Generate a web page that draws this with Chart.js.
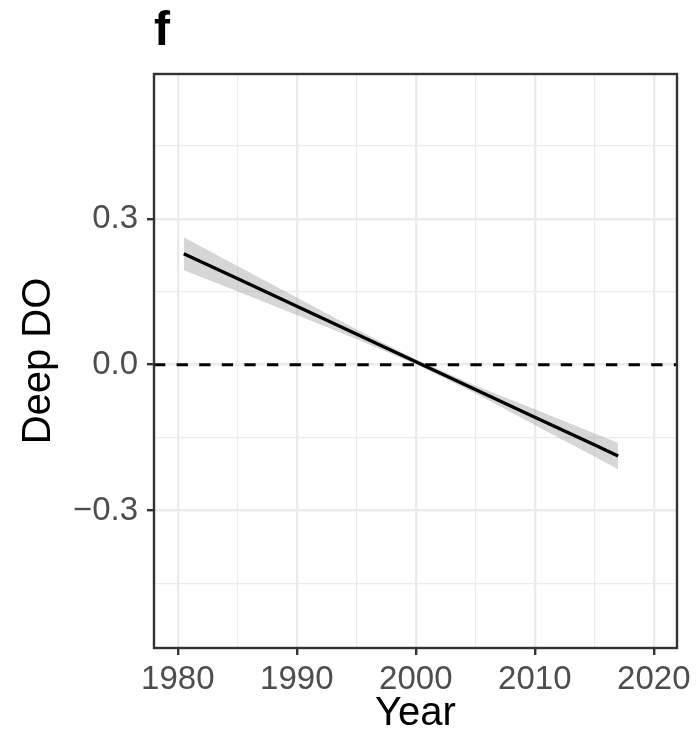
<!DOCTYPE html>
<html>
<head>
<meta charset="utf-8">
<script src="https://cdn.jsdelivr.net/npm/chart.js@4.4.1/dist/chart.umd.min.js"></script>
<style>
  body { margin: 0; background: #fff; }
  #wrap { width: 697px; height: 738px; }
</style>
</head>
<body>
<div id="wrap"><canvas id="trendChart"></canvas></div>
<script>
// values
const years = [1980.5, 1985, 1990, 1995, 2000, 2005, 2010, 2015, 2017];
const fitValues = [0.228, 0.177, 0.120, 0.063, 0.006, -0.051, -0.108, -0.165, -0.188];
const upperBand = [0.262, 0.203, 0.138, 0.073, 0.011, -0.043, -0.092, -0.141, -0.161];
const lowerBand = [0.194, 0.151, 0.102, 0.053, 0.001, -0.059, -0.124, -0.189, -0.215];
const refValue = 0;

const xTicks = [1980, 1985, 1990, 1995, 2000, 2005, 2010, 2015, 2020];
const xMajor = [1980, 1990, 2000, 2010, 2020];
const yTicks = [-0.45, -0.3, -0.15, 0, 0.15, 0.3, 0.45];
const yMajor = [-0.3, 0, 0.3];
const xLimits = [1978, 2021.95];
const yLimits = [-0.583, 0.598];

const FONT = '"Liberation Sans", Arial, Helvetica, sans-serif';
Chart.defaults.font.family = FONT;

const toPoints = vals => vals.map((v, i) => ({ x: years[i], y: v }));

// panel border drawn over the data, like theme_bw
const panelBorder = {
  id: "panelBorder",
  afterDatasetsDraw(chart) {
    const { ctx, chartArea: a } = chart;
    ctx.save();
    ctx.strokeStyle = "#333333";
    ctx.lineWidth = 2.4;
    ctx.strokeRect(a.left, a.top, a.right - a.left, a.bottom - a.top);
    ctx.restore();
  }
};

const gridWidth = major => ctx => (major.includes(ctx.tick.value) ? 2.4 : 1.2);
const tickColor = major => ctx => (major.includes(ctx.tick.value) ? "#333333" : "rgba(0,0,0,0)");

const ctx = document.getElementById("trendChart").getContext("2d");
new Chart(ctx, {
  type: "line",
  data: {
    datasets: [
      {
        data: toPoints(lowerBand),
        borderWidth: 0,
        pointRadius: 0,
        fill: false,
        order: 3
      },
      {
        data: toPoints(upperBand),
        borderWidth: 0,
        pointRadius: 0,
        fill: "-1",
        backgroundColor: "rgba(153,153,153,0.4)",
        order: 2
      },
      {
        data: [{ x: xLimits[0], y: refValue }, { x: xLimits[1], y: refValue }],
        borderColor: "#000000",
        borderWidth: 3,
        borderDash: [11.3, 11.3],
        pointRadius: 0,
        fill: false,
        order: 1
      },
      {
        data: toPoints(fitValues),
        borderColor: "#000000",
        borderWidth: 3.3,
        pointRadius: 0,
        fill: false,
        order: 0
      }
    ]
  },
  options: {
    responsive: true,
    maintainAspectRatio: false,
    animation: false,
    layout: { padding: { left: 0, right: 20, top: 0, bottom: 0 } },
    plugins: {
      legend: { display: false },
      tooltip: { enabled: false },
      title: {
        display: true,
        text: "f",
        align: "start",
        fullSize: false,
        color: "#000000",
        font: { size: 48, weight: "bold" },
        padding: { top: 3, bottom: 13.4 }
      }
    },
    scales: {
      x: {
        type: "linear",
        min: xLimits[0],
        max: xLimits[1],
        afterBuildTicks: s => { s.ticks = xTicks.map(v => ({ value: v })); },
        afterFit: s => { s.height = 90; },
        ticks: {
          autoSkip: false,
          maxRotation: 0,
          padding: 5,
          color: "#4D4D4D",
          font: { size: 33 },
          callback: v => (xMajor.includes(v) ? String(v) : "")
        },
        grid: {
          color: "#EBEBEB",
          lineWidth: gridWidth(xMajor),
          tickColor: tickColor(xMajor),
          tickLength: 7,
          tickWidth: 2.4
        },
        border: { display: false },
        title: {
          display: true,
          text: "Year",
          color: "#000000",
          font: { size: 40 },
          padding: { top: 0, bottom: 0 }
        }
      },
      y: {
        type: "linear",
        min: yLimits[0],
        max: yLimits[1],
        afterBuildTicks: s => { s.ticks = yTicks.map(v => ({ value: v })); },
        afterFit: s => { s.width = 154; },
        ticks: {
          padding: 9,
          color: "#4D4D4D",
          font: { size: 33 },
          callback: v => (yMajor.includes(v) ? v.toFixed(1).replace("-", "\u2212") : "")
        },
        grid: {
          color: "#EBEBEB",
          lineWidth: gridWidth(yMajor),
          tickColor: tickColor(yMajor),
          tickLength: 7,
          tickWidth: 2.4
        },
        border: { display: false },
        title: {
          display: true,
          text: "Deep DO",
          color: "#000000",
          font: { size: 40 },
          padding: { top: 15, bottom: 0 }
        }
      }
    }
  },
  plugins: [panelBorder]
});
</script>
</body>
</html>
